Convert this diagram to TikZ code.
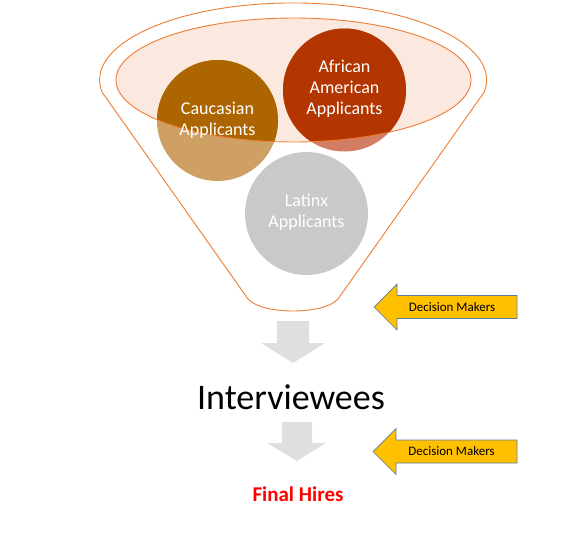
\documentclass[tikz,border=0pt]{standalone}
\usepackage{fontspec}
\setmainfont{Carlito}
\usepackage{xcolor}
\definecolor{funnelline}{HTML}{ED7D31}
\definecolor{funnelfill}{HTML}{FBE8DE}
\definecolor{cauclight}{HTML}{CEA064}
\definecolor{caucdark}{HTML}{AC6500}
\definecolor{aalight}{HTML}{D27E64}
\definecolor{aadark}{HTML}{B33500}
\definecolor{latgray}{HTML}{C9C9C9}
\definecolor{downgray}{HTML}{DFDFDF}
\definecolor{dmfill}{HTML}{FFC000}
\definecolor{dmline}{HTML}{5B7CA3}

\begin{document}
\begin{tikzpicture}[x=1pt, y=-1pt,
  funnel/.style={draw=funnelline, line width=0.9pt},
  grouptext/.style={text=white, align=center, font=\fontsize{18}{21}\selectfont},
  dmarrow/.style={fill=dmfill, draw=dmline, line width=0.7pt, line join=miter},
  downarrow/.style={fill=downgray}]
\useasboundingbox (0,0) rectangle (587,533);

% top of the funnel
\fill[funnelfill] (293.5,80) ellipse [x radius=177.5, y radius=62];
\fill[cauclight] (217.5,120.5) circle (60.5);
\fill[aalight] (344.5,90) circle (61.5);
\fill[latgray] (306.5,213.5) circle (61.5);
\begin{scope}
\clip (293.5,80) ellipse [x radius=177.5, y radius=62];
\fill[caucdark] (217.5,120.5) circle (60.5);
\fill[aadark] (344.5,90) circle (61.5);
\end{scope}
\draw[funnel] (293.5,80) ellipse [x radius=177.5, y radius=62];
\draw[funnel] (102,92) arc [start angle=171, end angle=369, x radius=193.5, y radius=77]
  -- (338,299) .. controls (324,315) and (262,315) .. (248,299) -- cycle;

\path (217.5,120) node[grouptext] (caucasian) {Caucasian\\Applicants};
\path (344.5,89) node[grouptext] (african) {African\\American\\Applicants};
\path (306.5,212.5) node[grouptext] (latinx) {Latinx\\Applicants};

% down arrows
\fill[downarrow] (277,321) -- (309,321) -- (309,343) -- (325,343) -- (293,363)
  -- (261,343) -- (277,343) -- cycle;
\fill[downarrow] (282,422) -- (312,422) -- (312,443) -- (326,443) -- (297,461)
  -- (267,443) -- (282,443) -- cycle;

\path (291,397) node[font=\fontsize{36}{40}\selectfont] (interviewees) {Interviewees};
\path (298,494) node[text=red, font=\fontsize{21}{24}\selectfont\bfseries] (hires) {Final Hires};

% decision makers
\draw[dmarrow] (374,307) -- (397,284) -- (397,295.5) -- (517,295.5) -- (517,318.5)
  -- (397,318.5) -- (397,330) -- cycle;
\draw[dmarrow] (373,451.5) -- (396,428.5) -- (396,440) -- (517,440) -- (517,463)
  -- (396,463) -- (396,474.5) -- cycle;
\path (452,307) node[font=\fontsize{13}{15}\selectfont] (dm1) {Decision Makers};
\path (451.5,451.5) node[font=\fontsize{13}{15}\selectfont] (dm2) {Decision Makers};
\end{tikzpicture}
\end{document}
